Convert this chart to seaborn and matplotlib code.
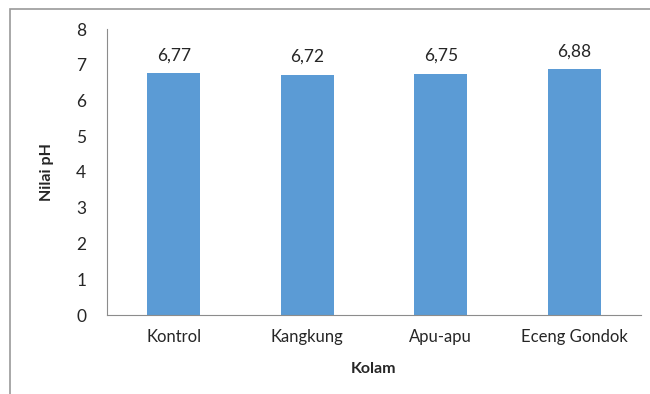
import matplotlib
matplotlib.use("Agg")
import matplotlib.pyplot as plt
import seaborn as sns
import pandas as pd
from matplotlib.patches import Rectangle

# Data
kolam = ["Kontrol", "Kangkung", "Apu-apu", "Eceng Gondok"]
nilai_ph = [6.77, 6.72, 6.75, 6.88]
y_ticks = [0, 1, 2, 3, 4, 5, 6, 7, 8]

df = pd.DataFrame({"Kolam": kolam, "Nilai pH": nilai_ph})

sns.set_style("white")
plt.rcParams["font.family"] = ["Lato", "DejaVu Sans"]

fig = plt.figure(figsize=(6.5, 3.94), dpi=100)
ax = fig.add_axes([107 / 650, 1 - 315 / 394, 534 / 650, 286 / 394])

sns.barplot(data=df, x="Kolam", y="Nilai pH", color="#5B9BD5", width=0.4,
            saturation=1, linewidth=0, ax=ax)

# value labels with comma decimals
for i, v in enumerate(nilai_ph):
    ax.annotate(f"{v:.2f}".replace(".", ","), (i, v), xytext=(0, 7),
                textcoords="offset points", ha="center", va="bottom",
                fontsize=12.5, color="#262626")

ax.set_ylim(0, 8)
ax.set_yticks(y_ticks)
ax.set_xlim(-0.5, 3.5)

for side in ["top", "right"]:
    ax.spines[side].set_visible(False)
ax.spines["left"].set_color("#8c8c8c")
ax.spines["bottom"].set_color("#8c8c8c")
ax.tick_params(axis="y", length=4, color="#8c8c8c", labelsize=12.5,
               labelcolor="#262626", pad=11)
ax.tick_params(axis="x", length=0, labelsize=12, labelcolor="#262626", pad=10)

ax.set_xlabel("Kolam", fontsize=11.5, fontweight="bold", color="#262626",
              labelpad=12)
ax.set_ylabel("Nilai pH", fontsize=11.5, fontweight="bold", color="#262626",
              labelpad=16)

# outer chart frame (cropped on right and bottom)
fig.patches.append(Rectangle((10 / 650, -0.1), 1.2, 1 - 9 / 394 + 0.1,
                             transform=fig.transFigure, fill=False,
                             edgecolor="#9a9a9a", linewidth=1.2))

plt.savefig("out.png", dpi=100)
plt.close()
